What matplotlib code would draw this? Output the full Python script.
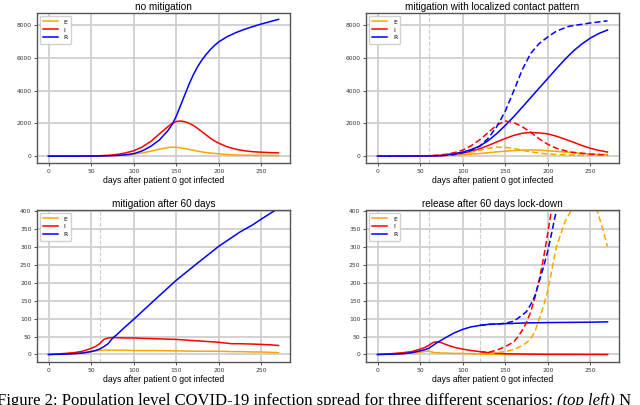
import matplotlib
matplotlib.use("Agg")
import matplotlib.pyplot as plt

# ---------------- data ----------------
# no mitigation (top-left)
nm_days = [0, 40, 50, 60, 70, 80, 90, 100, 110, 120, 130, 140, 145, 150, 155, 160,
           165, 170, 175, 180, 185, 190, 195, 200, 210, 220, 230, 240, 250, 260, 270]
nm_E = [0, 3, 6, 12, 22, 40, 70, 120, 200, 300, 420, 520, 545, 540, 510, 460,
        410, 360, 310, 260, 220, 190, 165, 140, 100, 75, 60, 50, 45, 40, 38]
nm_I = [0, 5, 10, 25, 50, 100, 190, 330, 560, 900, 1350, 1800, 2000, 2120, 2150, 2110,
        2010, 1880, 1700, 1500, 1300, 1100, 930, 790, 570, 420, 330, 270, 240, 215, 200]
nm_R = [0, 2, 5, 10, 20, 40, 80, 150, 320, 600, 980, 1550, 1920, 2450, 3100, 3750,
        4400, 4980, 5470, 5880, 6220, 6520, 6780, 7000, 7320, 7560, 7760, 7930, 8090, 8230, 8370]

# localized contact pattern (top-right, solid)
lc_days = [0, 50, 60, 75, 100, 110, 120, 130, 140, 150, 160, 170, 180, 190, 200,
           210, 220, 230, 240, 250, 260, 270]
lc_E = [0, 5, 10, 25, 80, 120, 160, 210, 260, 300, 340, 370, 380, 370, 330,
        290, 250, 210, 170, 130, 100, 75]
lc_I = [0, 10, 20, 50, 180, 300, 450, 650, 870, 1080, 1270, 1400, 1450, 1420, 1360,
        1220, 1040, 850, 650, 480, 350, 250]
lc_R = [0, 5, 10, 25, 250, 400, 620, 950, 1380, 1880, 2420, 3000, 3590, 4180, 4760,
        5350, 5920, 6440, 6870, 7230, 7510, 7720]
# dashed reference curves in the top-right panel
lcd_days = [0, 40, 50, 60, 70, 80, 90, 100, 110, 120, 130, 140, 150, 160, 170,
            180, 190, 200, 210, 225, 250, 270]
lcd_E = [0, 3, 6, 12, 25, 45, 80, 140, 240, 360, 480, 550, 540, 470, 360,
         260, 180, 130, 100, 75, 60, 55]
lcd_I = [0, 5, 10, 25, 55, 110, 210, 370, 640, 1000, 1450, 1900, 2150, 2050, 1800,
         1450, 1050, 720, 480, 260, 120, 80]
lcd_R = [0, 2, 5, 10, 22, 45, 95, 200, 360, 600, 1100, 1800, 2750, 4000, 5300,
         6300, 6900, 7300, 7650, 7950, 8150, 8280]

# mitigation after 60 days (bottom-left)
m60_days = [0, 10, 20, 30, 40, 50, 55, 60, 65, 70, 75, 80, 90, 100, 110, 125, 150,
            175, 200, 215, 225, 240, 250, 260, 270]
m60_E = [0, 1, 2, 3, 5, 8, 10, 11, 12, 12, 12, 12, 12, 11, 11, 11, 10,
         9, 9, 8, 8, 7, 7, 6, 5]
m60_I = [0, 1, 3, 5, 9, 17, 22, 30, 42, 46, 47, 47, 46, 46, 45, 44, 42,
         38, 34, 30, 30, 29, 28, 27, 25]
m60_R = [0, 0.5, 1, 2, 4, 8, 11, 15, 22, 30, 45, 55, 77, 98, 120, 153, 207,
         255, 302, 326, 342, 362, 378, 393, 408]

# release after 60 days lock-down (bottom-right, solid)
rl_days = [0, 10, 20, 30, 40, 50, 55, 60, 63, 65, 68, 70, 75, 80, 90, 100, 110, 120,
           130, 140, 150, 175, 200, 250, 270]
rl_E = [0, 0.5, 1, 2, 4, 6, 8, 10, 7, 6, 5, 5, 4, 4, 3, 3, 2, 1,
        1, 0.5, 0.5, 0.3, 0.2, 0.1, 0.1]
rl_I = [0, 1, 3, 5, 8, 15, 19, 25, 30, 33, 35, 35, 33, 28, 20, 15, 11, 8,
        5, 3, 2, 1, 0.5, 0.2, 0.1]
rl_R = [0, 0.5, 1, 2, 5, 10, 13, 17, 22, 25, 30, 33, 40, 47, 60, 70, 77, 81,
        84, 85, 86, 88, 89, 90, 91]
# dashed: release at day 120
rd_days_E = [120, 130, 140, 150, 160, 170, 175, 180, 185, 190, 195, 200, 205, 210,
             220, 228, 240, 250, 258, 265, 270]
rd_E = [1, 2, 5, 8, 14, 25, 33, 45, 65, 100, 135, 180, 240, 300,
        370, 405, 460, 450, 400, 345, 300]
rd_days_I = [120, 130, 140, 150, 160, 165, 170, 175, 180, 185, 190, 195, 200, 204, 210]
rd_I = [8, 6, 12, 22, 35, 50, 68, 90, 120, 160, 210, 270, 340, 400, 500]
rd_days_R = [120, 130, 140, 150, 160, 170, 175, 180, 185, 190, 195, 200, 205, 208, 212]
rd_R = [81, 84, 85, 87, 93, 110, 120, 140, 165, 205, 245, 290, 345, 380, 420]

titles = ["no mitigation", "mitigation with localized contact pattern",
          "mitigation after 60 days", "release after 60 days lock-down"]
xlabel = "days after patient 0 got infected"
labels = ["E", "I", "R"]
colors = ["orange", "red", "blue"]

caption_a = "Figure 2: Population level COVID-19 infection spread for three different scenarios: "
caption_b = "(top left)"
caption_c = " N"

# ---------------- figure ----------------
plt.rcParams["font.family"] = ["Liberation Sans", "DejaVu Sans"]
fig = plt.figure(figsize=(6.4, 4.05), dpi=100)

W, H = 640.0, 405.0
boxes = [(37, 13, 290, 163), (366, 13, 619, 163), (37, 210, 290, 362), (366, 210, 619, 362)]
axes = []
for (l, t, r, b) in boxes:
    ax = fig.add_axes([l / W, 1 - b / H, (r - l) / W, (b - t) / H])
    axes.append(ax)


def style(ax, title, ylim, yticks):
    ax.set_xlim(-13.5, 283.5)
    ax.set_ylim(*ylim)
    ax.set_xticks([0, 50, 100, 150, 200, 250])
    ax.set_yticks(yticks)
    ax.tick_params(labelsize=4.3, length=2, width=0.6, colors="#333333", pad=2)
    for lab in ax.get_xticklabels() + ax.get_yticklabels():
        lab.set_family("DejaVu Sans")
    ax.grid(True, color="#cfcfcf", linewidth=1.3)
    ax.set_axisbelow(True)
    for s in ax.spines.values():
        s.set_color("#555555")
        s.set_linewidth(1.0)
    ax.set_title(title, fontsize=7.2, pad=2)
    ax.set_xlabel(xlabel, fontsize=6.2, labelpad=2)
    leg = ax.legend(loc="upper left", fontsize=4.5, handlelength=2.3,
                    borderpad=0.5, labelspacing=0.4, handletextpad=1.0,
                    fancybox=True, framealpha=0.9, edgecolor="#cccccc")
    for t in leg.get_texts():
        t.set_family("DejaVu Sans")


lw = 1.1
top_ylim = (-420, 8760)
top_ticks = [0, 2000, 4000, 6000, 8000]
bot_ylim = (-21, 403)
bot_ticks = list(range(0, 401, 50))

# top-left
ax = axes[0]
for vals, c, lab in zip([nm_E, nm_I, nm_R], colors, labels):
    ax.plot(nm_days, vals, color=c, lw=lw, label=lab)
style(ax, titles[0], top_ylim, top_ticks)

# top-right
ax = axes[1]
ax.axvline(60, color="#cccccc", lw=0.8, ls="--")
for vals, c, lab in zip([lc_E, lc_I, lc_R], colors, labels):
    ax.plot(lc_days, vals, color=c, lw=lw, label=lab)
for vals, c in zip([lcd_E, lcd_I, lcd_R], colors):
    ax.plot(lcd_days, vals, color=c, lw=lw, ls=(0, (4, 2)))
style(ax, titles[1], top_ylim, top_ticks)

# bottom-left
ax = axes[2]
ax.axvline(60, color="#cccccc", lw=0.8, ls="--")
for vals, c, lab in zip([m60_E, m60_I, m60_R], colors, labels):
    ax.plot(m60_days, vals, color=c, lw=lw, label=lab)
style(ax, titles[2], bot_ylim, bot_ticks)

# bottom-right
ax = axes[3]
ax.axvline(60, color="#cccccc", lw=0.8, ls="--")
ax.axvline(120, color="#cccccc", lw=0.8, ls="--")
for vals, c, lab in zip([rl_E, rl_I, rl_R], colors, labels):
    ax.plot(rl_days, vals, color=c, lw=lw, label=lab)
ax.plot(rd_days_E, rd_E, color=colors[0], lw=lw, ls=(0, (4, 2)))
ax.plot(rd_days_I, rd_I, color=colors[1], lw=lw, ls=(0, (4, 2)))
ax.plot(rd_days_R, rd_R, color=colors[2], lw=lw, ls=(0, (4, 2)))
style(ax, titles[3], bot_ylim, bot_ticks)

# caption (cut off at the bottom of the image, as in the reference)
cap_y = 1 - 393 / H
cap_fs = 12.0
renderer = fig.canvas.get_renderer()
t1 = fig.text(-3 / W, cap_y, caption_a, fontsize=cap_fs, family="Liberation Serif", va="top")
bb = t1.get_window_extent(renderer)
t2 = fig.text(bb.x1 / W, cap_y, caption_b, fontsize=cap_fs, family="Liberation Serif",
              style="italic", va="top")
bb2 = t2.get_window_extent(renderer)
fig.text(bb2.x1 / W, cap_y, caption_c, fontsize=cap_fs, family="Liberation Serif", va="top")

fig.savefig("out.png", dpi=100)
